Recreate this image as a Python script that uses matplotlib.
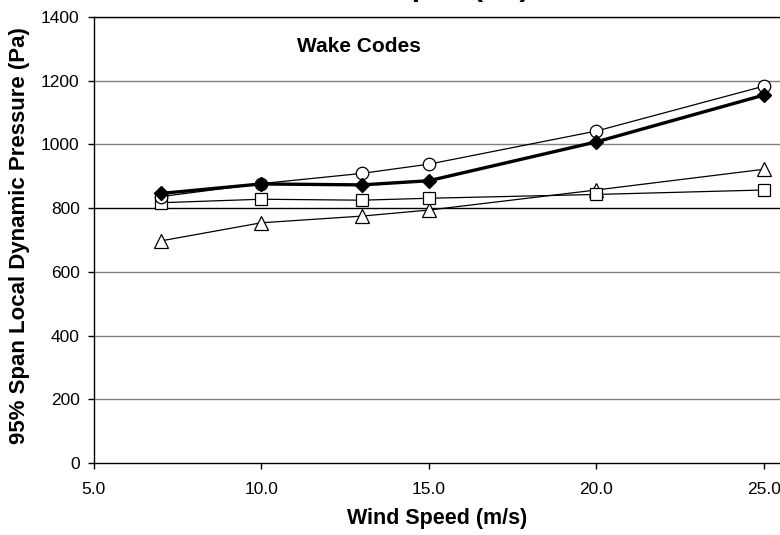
import matplotlib.pyplot as plt

plt.rcParams['font.family'] = ['Liberation Sans', 'DejaVu Sans']

# wind speed (m/s)
wind = [7, 10, 13, 15, 20, 25]

# 95% span local dynamic pressure (Pa), one series per wake code
circles = [836, 877, 909, 938, 1042, 1183]
diamonds = [846, 876, 873, 886, 1008, 1155]
squares = [817, 828, 825, 831, 843, 857]
triangles = [697, 754, 775, 794, 857, 922]

y_ticks = [0, 200, 400, 600, 800, 1000, 1200, 1400]
x_ticks = [5.0, 10.0, 15.0, 20.0, 25.0]

fig = plt.figure(figsize=(7.8, 5.35), dpi=100)
ax = fig.add_axes([0.1199, 0.1346, 0.8801, 0.8336])

for v in y_ticks[1:]:
    ax.axhline(v, color='black' if v == 800 else '#808080', lw=1.0, zorder=1)

ax.plot(wind, triangles, color='black', lw=0.9, marker='^', ms=9.5,
        mfc='white', mec='black', mew=0.9, zorder=3)
ax.plot(wind, squares, color='black', lw=0.9, marker='s', ms=9,
        mfc='white', mec='black', mew=0.9, zorder=3)
ax.plot(wind, circles, color='black', lw=0.9, marker='o', ms=9,
        mfc='white', mec='black', mew=0.9, zorder=4)
ax.plot(wind, diamonds, color='black', lw=2.4, marker='D', ms=7.5,
        mfc='black', mec='black', zorder=5)

ax.set_xlim(5, 25.48)
ax.set_ylim(0, 1400)
ax.set_xticks(x_ticks)
ax.set_xticklabels([f'{t:.1f}' for t in x_ticks])
ax.set_yticks(y_ticks)
ax.tick_params(direction='out', length=4, width=1, labelsize=12.5)
ax.tick_params(axis='y', pad=6)
ax.tick_params(axis='x', pad=10)

for side in ('left', 'bottom', 'top'):
    ax.spines[side].set_color('black')
    ax.spines[side].set_linewidth(1.0)
ax.spines['right'].set_visible(False)

ax.set_xlabel('Wind Speed (m/s)', fontsize=15.5, fontweight='bold')
ax.xaxis.set_label_coords(0.5, -0.1)
ax.set_ylabel('95% Span Local Dynamic Pressure (Pa)', fontsize=16, fontweight='bold')
ax.yaxis.set_label_coords(-0.092, 0.51)

ax.text(0.387, 0.935, 'Wake Codes', transform=ax.transAxes, ha='center',
        va='center', fontsize=15, fontweight='bold')

# chart title sits above the visible area, only its last line's descenders show
fig.text(409 / 780, 1 + 3.5 / 535, 'Local Dynamic Pressure\nat 95% Span (Pa)',
         ha='center', va='baseline', fontsize=21.5, fontweight='bold')

fig.savefig('out.png', dpi=100)
